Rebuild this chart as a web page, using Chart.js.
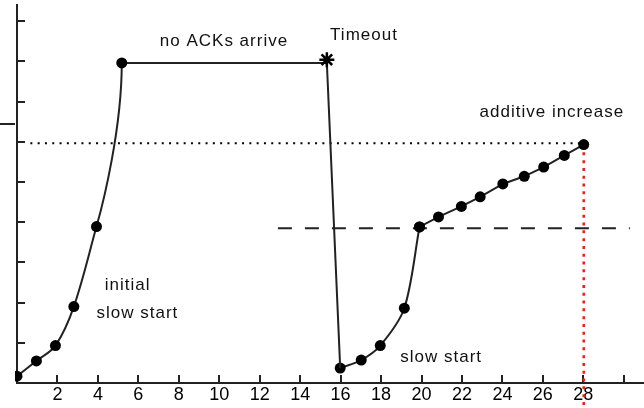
<!DOCTYPE html>
<html>
<head>
<meta charset="utf-8">
<style>
  html, body { margin: 0; padding: 0; background: #fff; }
  #c { display: block; }
</style>
<script src="https://cdn.jsdelivr.net/npm/chart.js@4.4.1/dist/chart.umd.min.js"></script>
</head>
<body>
<canvas id="c" width="644" height="408"></canvas>
<script>
// Congestion window versus time (RTTs): slow start, idle period, timeout, restart.
const initialX  = [0, 0.96, 1.9, 2.81, 3.93, 5.18];
const initialY  = [0.17, 0.55, 0.93, 1.9, 3.89, 7.96];
const idleX     = [5.18, 15.32, 15.98];
const idleY     = [7.96, 7.96, 0.37];
const timeoutX  = [15.32];
const timeoutY  = [8.04];
const restartX  = [15.98, 17.02, 17.96, 19.15, 19.9];
const restartY  = [0.37, 0.57, 0.93, 1.86, 3.88];
const additiveX = [19.9, 20.84, 21.97, 22.9, 24.02, 25.08, 26.04, 27.06, 28.02];
const additiveY = [3.88, 4.13, 4.39, 4.63, 4.95, 5.14, 5.37, 5.66, 5.93];

// Guide lines: previous peak (dotted), threshold (dashed), current time (red dotted)
const peakLineX      = [0.66, 28.45];
const peakLineY      = [5.96, 5.96];
const thresholdX     = [12.9, 30.3];
const thresholdY     = [3.85, 3.85];
const markerLineX    = [28.02, 28.02];
const markerLineY    = [5.93, -0.55];

// Axis ticks
const xTicks      = [2, 4, 6, 8, 10, 12, 14, 16, 18, 20, 22, 24, 26, 28, 30];
const xTickLabels = ['2', '4', '6', '8', '10', '12', '14', '16', '18', '20', '22', '24', '26', '28', ''];
const yTicks      = [1, 2, 3, 4, 5, 6, 7, 8, 9];
const sideMarkY   = 6.43;

// Text labels (left edge / baseline in data units)
const notes = [
  { text: 'no ACKs arrive',    x: 7.06,  y: 8.38 },
  { text: 'Timeout',           x: 15.48, y: 8.54 },
  { text: 'additive increase', x: 22.87, y: 6.62 },
  { text: 'initial',           x: 4.34,  y: 2.32 },
  { text: 'slow start',        x: 3.93,  y: 1.61 },
  { text: 'slow start',        x: 18.95, y: 0.53 }
];

const pts = (xs, ys) => xs.map((x, i) => ({ x, y: ys[i] }));

const INK = '#222';
const FONT = '"Liberation Sans", Arial, sans-serif';

// Exponential growth: the last segment of a slow-start curve ends with a vertical tangent.
const steepEnd = {
  id: 'steepEnd',
  beforeDatasetDraw(chart, args) {
    const ds = chart.data.datasets[args.index];
    if (!ds.verticalEnd) return;
    const meta = args.meta;
    const line = meta.dataset;
    line.updateControlPoints(chart.chartArea, 'x');
    const p = meta.data;
    const n = p.length;
    if (n < 3) return;
    const a = p[n - 3], b = p[n - 2], c = p[n - 1];
    const dx = b.x - a.x, dy = b.y - a.y;
    const len = Math.hypot(dx, dy);
    const ux = dx / len, uy = dy / len;
    const seg = Math.hypot(c.x - b.x, c.y - b.y);
    b.cp2x = b.x + ux * seg * 0.15;
    b.cp2y = b.y + uy * seg * 0.15;
    b.cp1x = b.x - ux * len * 0.3;
    b.cp1y = b.y - uy * len * 0.3;
    c.cp1x = c.x;
    c.cp1y = c.y + (b.y - c.y) * 0.4;
  }
};

const frame = {
  id: 'frame',
  beforeDatasetsDraw(chart) {
    const { ctx, chartArea, scales: { x, y } } = chart;
    ctx.save();
    ctx.strokeStyle = INK;
    ctx.lineWidth = 2;
    ctx.beginPath();
    xTicks.forEach(v => {
      const px = Math.round(x.getPixelForValue(v));
      ctx.moveTo(px, chartArea.bottom);
      ctx.lineTo(px, chartArea.bottom - 8);
    });
    yTicks.forEach(v => {
      const py = Math.round(y.getPixelForValue(v));
      ctx.moveTo(chartArea.left, py);
      ctx.lineTo(chartArea.left + 8, py);
    });
    const sy = Math.round(y.getPixelForValue(sideMarkY));
    ctx.moveTo(0, sy);
    ctx.lineTo(chartArea.left - 2, sy);
    ctx.stroke();
    ctx.restore();
  },
  afterDatasetsDraw(chart) {
    const { ctx, scales: { x, y } } = chart;
    ctx.save();
    ctx.fillStyle = '#111';
    ctx.font = '17px ' + FONT;
    ctx.textAlign = 'left';
    ctx.textBaseline = 'alphabetic';
    if ('letterSpacing' in ctx) ctx.letterSpacing = '1px';
    notes.forEach(n => {
      ctx.fillText(n.text, x.getPixelForValue(n.x), y.getPixelForValue(n.y));
    });
    ctx.restore();
  }
};

const lineStyle = {
  showLine: true,
  borderColor: INK,
  borderWidth: 2,
  pointRadius: 5.5,
  pointBackgroundColor: '#000',
  pointBorderWidth: 0,
  pointHoverRadius: 5.5
};

new Chart(document.getElementById('c'), {
  type: 'scatter',
  data: {
    datasets: [
      { ...lineStyle, label: 'timeout', data: pts(timeoutX, timeoutY), showLine: false,
        pointStyle: 'star', pointRadius: 7.5, pointBorderColor: '#000', pointBorderWidth: 2.5 },
      { ...lineStyle, label: 'initial slow start', data: pts(initialX, initialY), tension: 0.35,
        verticalEnd: true, clip: { left: 2, top: 10, right: 10, bottom: 10 } },
      { ...lineStyle, label: 'idle', data: pts(idleX, idleY), pointRadius: 0, tension: 0 },
      { ...lineStyle, label: 'slow start', data: pts(restartX, restartY), tension: 0.3 },
      { ...lineStyle, label: 'additive increase', data: pts(additiveX, additiveY), tension: 0 },
      { label: 'peak', data: pts(peakLineX, peakLineY), showLine: true, pointRadius: 0,
        borderColor: '#000', borderWidth: 2, borderDash: [2, 5.3], borderCapStyle: 'butt' },
      { label: 'threshold', data: pts(thresholdX, thresholdY), showLine: true, pointRadius: 0,
        borderColor: INK, borderWidth: 2, borderDash: [14, 13], borderCapStyle: 'butt' },
      { label: 'now', data: pts(markerLineX, markerLineY), showLine: true, pointRadius: 0,
        borderColor: '#e8201a', borderWidth: 2.5, borderDash: [3, 4.8], borderCapStyle: 'butt',
        clip: false }
    ]
  },
  options: {
    responsive: false,
    animation: false,
    devicePixelRatio: 1,
    layout: { autoPadding: false, padding: { left: 17, top: 5, right: 0, bottom: 0 } },
    plugins: { legend: { display: false }, tooltip: { enabled: false } },
    events: [],
    scales: {
      x: {
        type: 'linear',
        min: 0,
        max: 31,
        afterBuildTicks: s => { s.ticks = xTicks.map(v => ({ value: v })); },
        afterFit: s => { s.height = 25; s.paddingLeft = 0; s.paddingRight = 0; },
        grid: { display: false, drawTicks: false },
        border: { display: true, color: INK, width: 2 },
        ticks: {
          autoSkip: false,
          maxRotation: 0,
          padding: 1,
          color: '#000',
          font: { family: FONT, size: 18 },
          callback: v => { const i = xTicks.indexOf(v); return i >= 0 ? xTickLabels[i] : ''; }
        }
      },
      y: {
        type: 'linear',
        min: 0,
        max: 9.4,
        afterFit: s => { s.width = 0; s.paddingTop = 0; s.paddingBottom = 0; },
        grid: { display: false, drawTicks: false },
        border: { display: true, color: INK, width: 2 },
        ticks: { display: false, stepSize: 1 }
      }
    }
  },
  plugins: [steepEnd, frame]
});
</script>
</body>
</html>
